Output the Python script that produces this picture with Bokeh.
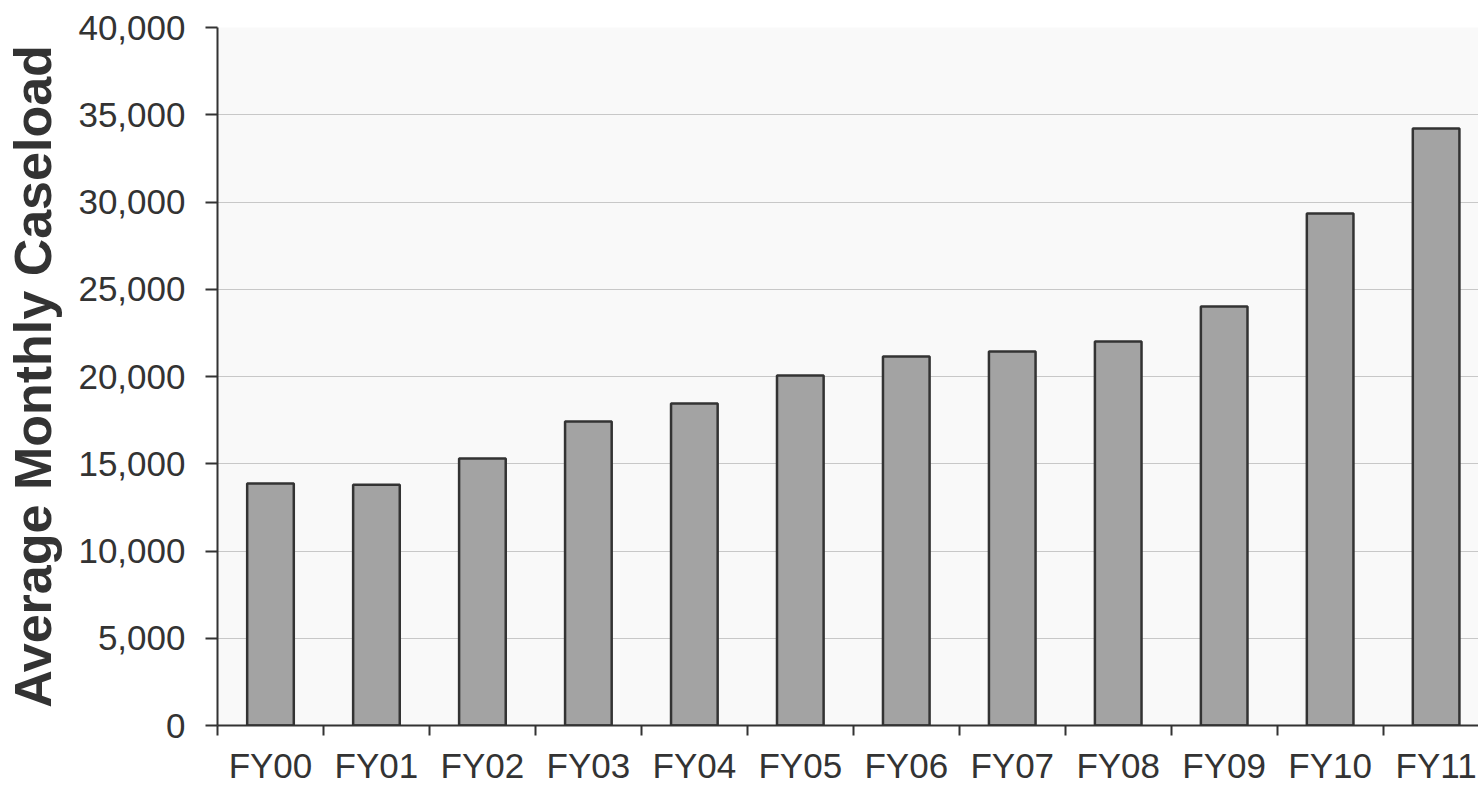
from bokeh.plotting import figure
from bokeh.models import Range1d, FixedTicker, NumeralTickFormatter, ColumnDataSource
from bokeh.embed import file_html
from bokeh.resources import INLINE

categories = ["FY00", "FY01", "FY02", "FY03", "FY04", "FY05",
              "FY06", "FY07", "FY08", "FY09", "FY10", "FY11"]
caseload = [13870, 13790, 15300, 17420, 18450, 20060,
            21150, 21430, 22000, 24010, 29340, 34210]
y_ticks = [0, 5000, 10000, 15000, 20000, 25000, 30000, 35000, 40000]

centers = [i + 0.5 for i in range(len(categories))]
boundaries = [i for i in range(len(categories) + 1)]
src = ColumnDataSource(dict(x=centers, top=caseload, cat=categories))

FONT = "Liberation Sans"
TXT = "#333333"

p = figure(width=1478, height=787, output_backend="svg", toolbar_location=None,
           x_range=Range1d(0, 11.9), y_range=Range1d(0, 40000),
           min_border_left=217, min_border_top=27, min_border_bottom=62,
           min_border_right=0, background_fill_color="#f9f9f9",
           border_fill_color="#ffffff", outline_line_color=None)

p.vbar(x="x", top="top", width=0.44, bottom=0, source=src,
       fill_color="#a3a3a3", line_color="#333333", line_width=2.5)

# y axis
p.yaxis.ticker = FixedTicker(ticks=y_ticks)
p.yaxis.formatter = NumeralTickFormatter(format="0,0")
p.yaxis.axis_label = "Average Monthly Caseload"
p.yaxis.axis_label_text_font = FONT
p.yaxis.axis_label_text_font_style = "bold"
p.yaxis.axis_label_text_font_size = "52px"
p.yaxis.axis_label_text_color = TXT
p.yaxis.axis_label_standoff = 13
p.yaxis.major_label_text_font = FONT
p.yaxis.major_label_text_font_size = "35px"
p.yaxis.major_label_text_color = TXT
p.yaxis.major_label_standoff = 20
p.yaxis.major_tick_out = 12
p.yaxis.major_tick_in = 0
p.yaxis.minor_tick_out = 0
p.yaxis.minor_tick_in = 0
p.yaxis.axis_line_color = "#333333"
p.yaxis.axis_line_width = 2
p.yaxis.major_tick_line_color = "#333333"
p.yaxis.major_tick_line_width = 2

# x axis
p.xaxis.ticker = FixedTicker(ticks=centers, minor_ticks=boundaries)
p.xaxis.major_label_overrides = {c: n for c, n in zip(centers, categories)}
p.xaxis.major_label_text_font = FONT
p.xaxis.major_label_text_font_size = "35px"
p.xaxis.major_label_text_color = TXT
p.xaxis.major_label_standoff = 10
p.xaxis.major_tick_out = 0
p.xaxis.major_tick_in = 0
p.xaxis.minor_tick_out = 10
p.xaxis.minor_tick_in = 0
p.xaxis.minor_tick_line_color = "#333333"
p.xaxis.minor_tick_line_width = 2
p.xaxis.axis_line_color = "#333333"
p.xaxis.axis_line_width = 2

p.xgrid.grid_line_color = None
p.ygrid.ticker = FixedTicker(ticks=y_ticks)
p.ygrid.grid_line_color = "#c8c8c8"
p.ygrid.grid_line_width = 1

open("out.html", "w").write(file_html(p, INLINE))
